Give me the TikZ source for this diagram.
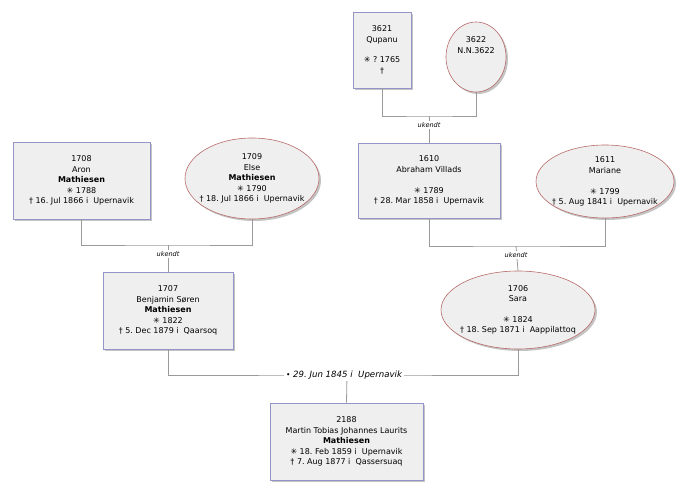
\documentclass[tikz,border=0pt]{standalone}
\usepackage{fontspec}
\setmainfont{DejaVu Sans}
\usepackage{tikz}
\usepackage{xcolor}
\usetikzlibrary{positioning, shapes, shadows}
\frenchspacing

\definecolor{boxfill}{HTML}{EFEFEF}
\definecolor{maleline}{HTML}{9494C8}
\definecolor{femaleline}{HTML}{B86A6A}
\definecolor{shadowgray}{HTML}{C4C4C4}
\definecolor{linkgray}{HTML}{9A9A9A}

\tikzset{
  person text/.style={align=center, font=\fontsize{8}{10.4}\selectfont, inner sep=0pt},
  male/.style={rectangle, draw=maleline, fill=boxfill, line width=0.8pt, person text,
    drop shadow={shadow xshift=2pt, shadow yshift=-2pt, fill=shadowgray, opacity=1}},
  female/.style={ellipse, draw=femaleline, fill=boxfill, line width=0.6pt, inner sep=0pt,
    drop shadow={shadow xshift=2pt, shadow yshift=-2pt, fill=shadowgray, opacity=1}},
  link/.style={draw=linkgray, line width=0.8pt},
  unknown/.style={fill=white, inner sep=1pt, font=\fontsize{6.5}{7}\selectfont\itshape},
  wedding/.style={fill=white, inner sep=2pt, font=\fontsize{8.6}{9}\selectfont\itshape}
}

\begin{document}
\begin{tikzpicture}[x=1pt, y=-1pt]
\useasboundingbox (0,0) rectangle (691,500);

% great-grandparents
\node[male, minimum width=58pt, minimum height=76pt] (p3621) at (382, 50) {3621\\Qupanu\\ \\✳ ? 1765\\†};
\node[female, minimum width=60pt, minimum height=70pt,
  label={[person text, yshift=12pt]center:{3622\\N.N.3622}}] (p3622) at (476, 57) {};

% grandparents
\node[male, minimum width=137pt, minimum height=77pt] (p1708) at (81.5, 180.5)
  {1708\\Aron\\\textbf{Mathiesen}\\✳ 1788\\† 16. Jul 1866 i\ \ Upernavik};
\node[female, minimum width=134pt, minimum height=81pt,
  label={[person text]center:{1709\\Else\\\textbf{Mathiesen}\\✳ 1790\\† 18. Jul 1866 i\ \ Upernavik}}] (p1709) at (252, 178.5) {};
\node[male, minimum width=142pt, minimum height=75pt] (p1610) at (429, 180.5)
  {1610\\Abraham Villads\\ \\✳ 1789\\† 28. Mar 1858 i\ \ Upernavik};
\node[female, minimum width=138pt, minimum height=73pt,
  label={[person text]center:{1611\\Mariane\\ \\✳ 1799\\† 5. Aug 1841 i\ \ Upernavik}}] (p1611) at (605, 181.5) {};

% parents
\node[male, minimum width=130pt, minimum height=77pt] (p1707) at (168, 310.5)
  {1707\\Benjamin Søren\\\textbf{Mathiesen}\\✳ 1822\\† 5. Dec 1879 i\ \ Qaarsoq};
\node[female, minimum width=154pt, minimum height=78pt,
  label={[person text]center:{1706\\Sara\\ \\✳ 1824\\† 18. Sep 1871 i\ \ Aappilattoq}}] (p1706) at (518, 310) {};

% child
\node[male, minimum width=153pt, minimum height=77pt] (p2188) at (346.5, 441.5)
  {2188\\Martin Tobias Johannes Laurits\\\textbf{Mathiesen}\\✳ 18. Feb 1859 i\ \ Upernavik\\† 7. Aug 1877 i\ \ Qassersuaq};

% family links
\coordinate (f3621) at (429, 116);
\coordinate (f1708) at (168, 245);
\coordinate (f1610) at (516, 246);
\coordinate (f1707) at (347, 375);

\draw[link] (p3621.south) |- (f3621) -| (p3622.south);
\draw[link] (f3621) -- (p1610.north);
\node[unknown] (u3621) at (429, 125) {ukendt};

\draw[link] (p1708.south) |- (f1708) -| (p1709.south);
\draw[link] (f1708) -- (p1707.north);
\node[unknown] (u1708) at (168, 254) {ukendt};

\draw[link] (p1610.south) |- (f1610) -| (p1611.south);
\draw[link] (f1610) -- (p1706.north);
\node[unknown] (u1610) at (516, 255) {ukendt};

\draw[link] (p1707.south) |- (f1707) -| (p1706.south);
\draw[link] (f1707) -- (p2188.north);
\node[wedding] (m1707) at (344, 375) {{\upshape\fontsize{7.5}{8}\selectfont•} 29. Jun 1845 i\ \ Upernavik};
\end{tikzpicture}
\end{document}
